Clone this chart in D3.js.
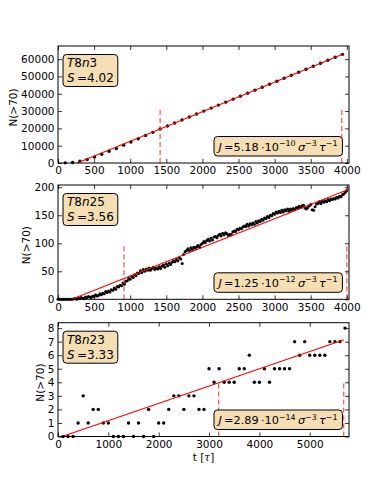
<!DOCTYPE html>
<html>
<head>
<meta charset="utf-8">
<script src="https://cdn.jsdelivr.net/npm/d3@7"></script>
<style>
  body { margin: 0; background: #fff; }
  text { font-family: "DejaVu Sans", sans-serif; }
</style>
</head>
<body>
<div id="chart"></div>
<script>
// T8n3 panel
const t1 = [101, 202, 303, 404, 505, 606, 707, 808, 909, 1010, 1111, 1212, 1313, 1414, 1515, 1616,
    1717, 1818, 1919, 2020, 2121, 2222, 2323, 2424, 2525, 2626, 2727, 2828, 2929, 3030, 3131, 3232,
    3333, 3434, 3535, 3636, 3737, 3838, 3939];
const n1 = [100, 300, 1100, 2000, 3400, 5000, 6800, 8400, 10300, 12100, 14000, 15900, 17700, 19640,
    21360, 23090, 24810, 26540, 28270, 29990, 31720, 33450, 35170, 36900, 38620, 40350, 42080, 43800,
    45530, 47250, 48980, 50710, 52430, 54160, 55880, 57610, 59340, 61060, 62790];
const fit1 = [[265, 0], [3950, 62980]];
const dash1 = [1414, 3930];
const dashTop1 = 31500;

// T8n25 panel, one sample every 20 tau starting at 0
const t2Step = 20;
const n2 = [
    0, 0, 0, 0, 0, 0, 0, 0, 0, 0,
    0, 1, 1, 0, 2, 1, 3, 2, 1, 4,
    3, 5, 4, 3, 6, 5, 8, 6, 7, 10,
    8, 11, 10, 14, 12, 15, 13, 17, 16, 20,
    18, 23, 22, 25, 24, 29, 27, 32, 33, 37,
    36, 41, 39, 44, 42, 47, 46, 51, 48, 53,
    50, 54, 52, 56, 52, 55, 57, 53, 56, 54,
    58, 55, 59, 61, 57, 63, 60, 65, 62, 66,
    69, 67, 71, 69, 74, 72, 64, 80, 85, 87,
    90, 87, 92, 89, 93, 91, 94, 96, 93, 98,
    100, 103, 101, 105, 107, 104, 109, 106, 111, 112,
    110, 114, 116, 113, 118, 115, 119, 117, 114, 116,
    115, 120, 122, 121, 125, 124, 127, 126, 129, 131,
    130, 134, 131, 135, 133, 136, 134, 139, 136, 140,
    139, 143, 141, 145, 144, 148, 146, 150, 149, 153,
    152, 156, 154, 157, 155, 159, 156, 160, 158, 161,
    157, 161, 159, 162, 160, 164, 163, 166, 164, 167,
    168, 163, 161, 164, 167, 169, 160, 159, 165, 170,
    171, 174, 171, 175, 173, 176, 174, 178, 176, 179,
    178, 180, 179, 182, 181, 184, 183, 187, 188, 191,
    194];
const fit2 = [[190, 0], [4020, 196]];
const dash2 = [914, 4000];
const dashTop2 = 97;

// T8n23 panel
const t3 = [100, 200, 300, 400, 500, 600, 700, 800, 900, 1000, 1100, 1200, 1300, 1400, 1500, 1600,
    1700, 1800, 1900, 2000, 2100, 2200, 2300, 2400, 2500, 2600, 2700, 2800, 2900, 3000, 3100, 3200,
    3300, 3400, 3500, 3600, 3700, 3800, 3900, 4000, 4100, 4200, 4300, 4400, 4500, 4600, 4700, 4800,
    4900, 5000, 5100, 5200, 5300, 5400, 5500, 5600, 5700];
const n3 = [0, 0, 0, 1, 3, 1, 2, 2, 1, 1, 0, 0, 0, 1, 0, 1, 0, 2, 0, 1, 1, 2, 3, 3, 2, 3, 3, 2, 2,
    5, 4, 5, 4, 4, 4, 5, 5, 6, 4, 4, 5, 4, 5, 5, 5, 5, 7, 6, 7, 6, 6, 6, 6, 7, 7, 7, 8];
const fit3 = [[83, 0], [5680, 7.14]];
const dash3 = [3190, 5675];
const dashTop3 = 4;

const names = ["T8n3", "T8n25", "T8n23"];
const sValues = ["4.02", "3.56", "3.33"];
const jMantissa = ["5.18", "1.25", "2.89"];
const jExponent = ["\u221210", "\u221212", "\u221214"];

const xTicks12 = [0, 500, 1000, 1500, 2000, 2500, 3000, 3500, 4000];
const xTicks3 = [0, 1000, 2000, 3000, 4000, 5000];
const yTicks1 = [0, 10000, 20000, 30000, 40000, 50000, 60000];
const yTicks2 = [0, 50, 100, 150, 200];
const yTicks3 = [0, 1, 2, 3, 4, 5, 6, 7, 8];

const svg = d3.select("#chart")
    .append("svg")
    .attr("width", 388)
    .attr("height", 485);

svg.append("rect").attr("width", 388).attr("height", 485).attr("fill", "#fff");

const left = 58, right = 349;
const mathFont = "DejaVu Serif";

// write a mathtext-like label from [text, kind] pieces: i = italic, r = roman, s = superscript
function mathText(sel, segs, size) {
    let cur = 0;
    segs.forEach(([s, k]) => {
        const target = k === "s" ? -size * 0.42 : 0;
        sel.append("tspan")
            .attr("dy", target - cur)
            .attr("font-style", k === "i" ? "italic" : "normal")
            .attr("font-size", k === "s" ? size * 0.7 : size)
            .text(s);
        cur = target;
    });
}

function drawPanel(p, i) {
    const g = svg.append("g");

    const x = d3.scaleLinear().domain(p.xDomain).range([left, right]);
    const y = d3.scaleLinear().domain(p.yDomain).range([p.bottom, p.top]);

    // data points
    g.selectAll(".pt")
        .data(p.t.map((t, j) => [t, p.n[j]]))
        .enter().append("circle")
        .attr("cx", d => x(d[0]))
        .attr("cy", d => y(d[1]))
        .attr("r", p.r)
        .attr("fill", "#000");

    // fit line
    g.append("path")
        .attr("d", d3.line().x(d => x(d[0])).y(d => y(d[1]))(p.fit))
        .attr("fill", "none")
        .attr("stroke", "#ff0000")
        .attr("stroke-width", 1.1);

    // dashed markers
    g.selectAll(".dash")
        .data(p.dash)
        .enter().append("line")
        .attr("x1", d => x(d))
        .attr("x2", d => x(d))
        .attr("y1", y(0))
        .attr("y2", y(p.dashTop))
        .attr("stroke", "#ff3030")
        .attr("stroke-opacity", 0.85)
        .attr("stroke-width", 1.2)
        .attr("stroke-dasharray", "5,3");

    // axes, ticks inside on all four sides
    const fmt = d3.format("d");
    const axB = g.append("g").attr("transform", `translate(0,${p.bottom})`)
        .call(d3.axisBottom(x).tickValues(p.xTicks).tickSize(-4).tickPadding(4).tickFormat(fmt));
    const axT = g.append("g").attr("transform", `translate(0,${p.top})`)
        .call(d3.axisTop(x).tickValues(p.xTicks).tickSize(-4).tickFormat(""));
    const axL = g.append("g").attr("transform", `translate(${left},0)`)
        .call(d3.axisLeft(y).tickValues(p.yTicks).tickSize(-4).tickPadding(3.5).tickFormat(fmt));
    const axR = g.append("g").attr("transform", `translate(${right},0)`)
        .call(d3.axisRight(y).tickValues(p.yTicks).tickSize(-4).tickFormat(""));

    [axB, axT, axL, axR].forEach(a => {
        a.select(".domain").remove();
        a.selectAll("line").attr("stroke", "#000").attr("stroke-width", 0.8);
        a.selectAll("text").attr("font-size", 10.5).attr("fill", "#000")
            .attr("font-family", "DejaVu Sans, sans-serif");
    });

    g.append("rect")
        .attr("x", left).attr("y", p.top)
        .attr("width", right - left).attr("height", p.bottom - p.top)
        .attr("fill", "none").attr("stroke", "#000").attr("stroke-width", 1);

    // y label placed left of the tick labels
    const labLeft = axL.node().getBBox().x + left;
    g.append("text")
        .attr("transform", `translate(${labLeft - 8},${(p.top + p.bottom) / 2 + 3}) rotate(-90)`)
        .attr("text-anchor", "middle")
        .attr("dy", "0.35em")
        .attr("font-size", 10.5)
        .text("N(>70)");

    // name / S box, top left
    const boxTop = p.top + 8.5;
    const nameBox = g.append("g");
    const rect1 = nameBox.append("rect");
    const txt1 = nameBox.append("text")
        .attr("x", 67).attr("y", boxTop + 12.3)
        .attr("font-family", mathFont);
    mathText(txt1, [["T", "i"], ["8", "r"], ["n", "i"], [names[i].slice(3), "r"]], 12);
    const txt2 = nameBox.append("text")
        .attr("x", 67).attr("y", boxTop + 27.3)
        .attr("font-family", mathFont);
    mathText(txt2, [["S", "i"], ["\u2009=" + sValues[i], "r"]], 12);
    const bb1 = nameBox.node().getBBox();
    rect1.attr("x", 63).attr("y", boxTop)
        .attr("width", bb1.x + bb1.width + 4 - 63).attr("height", 32)
        .attr("rx", 3.5)
        .attr("fill", "#f5deb3").attr("stroke", "#000").attr("stroke-width", 1);

    // J box, bottom right
    const jTop = p.bottom - 7 - 19.5;
    const jBox = g.append("g");
    const rect2 = jBox.append("rect");
    const txt3 = jBox.append("text")
        .attr("x", 218.5).attr("y", jTop + 14.4)
        .attr("font-family", mathFont);
    mathText(txt3, [["J", "i"], ["\u2009=" + jMantissa[i] + "\u2009\u00b710", "r"], [jExponent[i], "s"],
        ["\u2009\u03c3", "i"], ["\u22123", "s"], ["\u2009\u03c4", "i"], ["\u22121", "s"]], 11.3);
    const bb2 = txt3.node().getBBox();
    rect2.attr("x", 214).attr("y", jTop)
        .attr("width", bb2.x + bb2.width + 5 - 214).attr("height", 19.5)
        .attr("rx", 3.5)
        .attr("fill", "#f5deb3").attr("stroke", "#000").attr("stroke-width", 1);
}

const panels = [
    { top: 46, bottom: 163, t: t1, n: n1, fit: fit1, dash: dash1, dashTop: dashTop1, r: 1.7,
      xDomain: [0, 4030], yDomain: [0, 67600], xTicks: xTicks12, yTicks: yTicks1 },
    { top: 185, bottom: 299.3, t: n2.map((v, j) => j * t2Step), n: n2, fit: fit2, dash: dash2, dashTop: dashTop2, r: 1.5,
      xDomain: [0, 4030], yDomain: [0, 204], xTicks: xTicks12, yTicks: yTicks2 },
    { top: 322.7, bottom: 436.5, t: t3, n: n3, fit: fit3, dash: dash3, dashTop: dashTop3, r: 1.7,
      xDomain: [0, 5780], yDomain: [0, 8.4], xTicks: xTicks3, yTicks: yTicks3 }
];

panels.forEach(drawPanel);

// x label under the last panel
const xl = svg.append("text")
    .attr("x", (left + right) / 2)
    .attr("y", 461)
    .attr("text-anchor", "middle")
    .attr("font-size", 10.5);
xl.append("tspan").text("t [");
xl.append("tspan").attr("font-family", mathFont).attr("font-style", "italic").text("\u03c4");
xl.append("tspan").text("]");
</script>
</body>
</html>
